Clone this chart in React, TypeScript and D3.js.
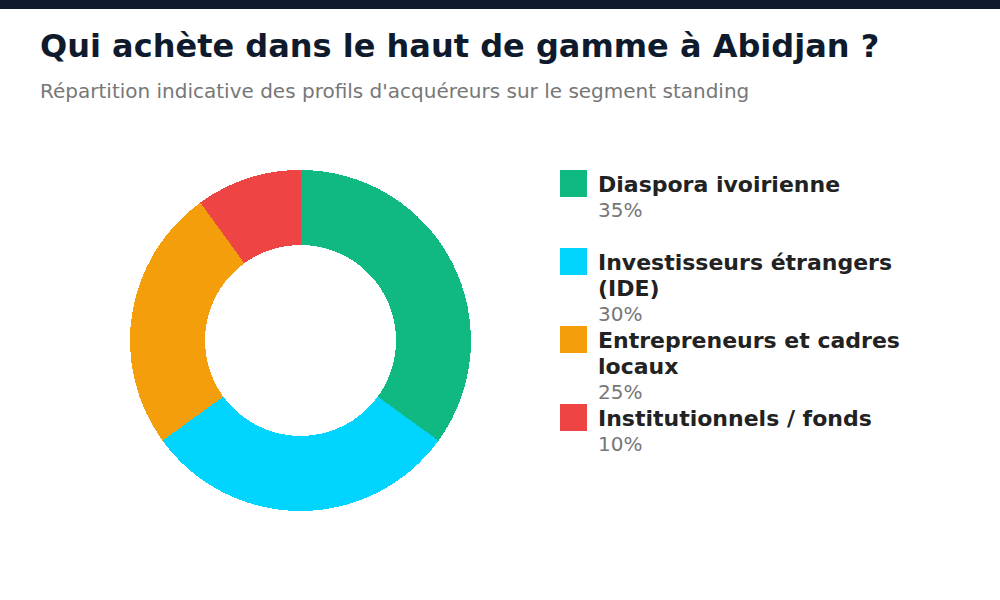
import React, { useEffect, useRef } from 'react';
import * as d3 from 'd3';

const categories = [
  'Diaspora ivoirienne',
  'Investisseurs étrangers (IDE)',
  'Entrepreneurs et cadres locaux',
  'Institutionnels / fonds',
];
const shares = [35, 30, 25, 10];
const colors = ['#10b981', '#00d4ff', '#f59e0b', '#ef4444'];

const title = 'Qui achète dans le haut de gamme à Abidjan ?';
const subtitle = "Répartition indicative des profils d'acquéreurs sur le segment standing";

interface Slice {
  label: string;
  value: number;
  color: string;
}

export default function App() {
  const svgRef = useRef<SVGSVGElement>(null);

  const data: Slice[] = categories.map((label, i) => ({
    label,
    value: shares[i],
    color: colors[i],
  }));

  useEffect(() => {
    if (!svgRef.current) return;
    const svg = d3.select(svgRef.current);
    svg.selectAll('*').remove();

    const width = 1000;
    const height = 600;
    const font = '"DejaVu Sans", sans-serif';

    svg.append('rect').attr('width', width).attr('height', height).attr('fill', '#ffffff');
    // top accent bar
    svg.append('rect').attr('width', width).attr('height', 9).attr('fill', '#0f1b2d');

    svg.append('text')
      .attr('x', 40)
      .attr('y', 57)
      .attr('font-family', font)
      .attr('font-size', 32)
      .attr('font-weight', 'bold')
      .attr('fill', '#0f1b2d')
      .text(title);

    svg.append('text')
      .attr('x', 40)
      .attr('y', 98)
      .attr('font-family', font)
      .attr('font-size', 20)
      .attr('fill', '#777777')
      .text(subtitle);

    // Donut
    const cx = 300.5;
    const cy = 340.5;
    const outer = 170.5;
    const inner = 95.5;

    const pie = d3.pie<Slice>().sort(null).value(d => d.value);
    const arc = d3.arc<d3.PieArcDatum<Slice>>().innerRadius(inner).outerRadius(outer);

    svg.append('g')
      .attr('transform', `translate(${cx},${cy})`)
      .selectAll('path')
      .data(pie(data))
      .enter()
      .append('path')
      .attr('d', arc)
      .attr('fill', d => d.data.color)
      .attr('shape-rendering', 'crispEdges');

    // Legend
    const legendX = 560;
    const legendY = 170;
    const rowStep = 78;
    const maxTextWidth = 320;
    const lineHeight = 26;

    const legend = svg.append('g').attr('font-family', font);

    data.forEach((d, i) => {
      const y0 = legendY + i * rowStep;
      legend.append('rect')
        .attr('x', legendX)
        .attr('y', y0)
        .attr('width', 27)
        .attr('height', 27)
        .attr('fill', d.color);

      const label = legend.append('text')
        .attr('x', legendX + 38)
        .attr('y', y0 + 22)
        .attr('font-size', 22)
        .attr('font-weight', 'bold')
        .attr('fill', '#222222');

      // simple word wrap
      const words = d.label.split(' ');
      let line: string[] = [];
      let lineNo = 0;
      let tspan = label.append('tspan').attr('x', legendX + 38).attr('dy', 0);
      words.forEach(w => {
        line.push(w);
        tspan.text(line.join(' '));
        const node = tspan.node() as SVGTSpanElement;
        if (node.getComputedTextLength() > maxTextWidth && line.length > 1) {
          line.pop();
          tspan.text(line.join(' '));
          line = [w];
          lineNo++;
          tspan = label.append('tspan').attr('x', legendX + 38).attr('dy', lineHeight).text(w);
        }
      });

      legend.append('text')
        .attr('x', legendX + 38)
        .attr('y', y0 + 22 + lineNo * lineHeight + 25)
        .attr('font-size', 20)
        .attr('fill', '#777777')
        .text(`${d.value}%`);
    });
  }, []);

  return (
    <div style={{ position: 'absolute', left: 0, top: 0, width: 1000, height: 600 }}>
      <svg ref={svgRef} width={1000} height={600} style={{ display: 'block' }} />
    </div>
  );
}
